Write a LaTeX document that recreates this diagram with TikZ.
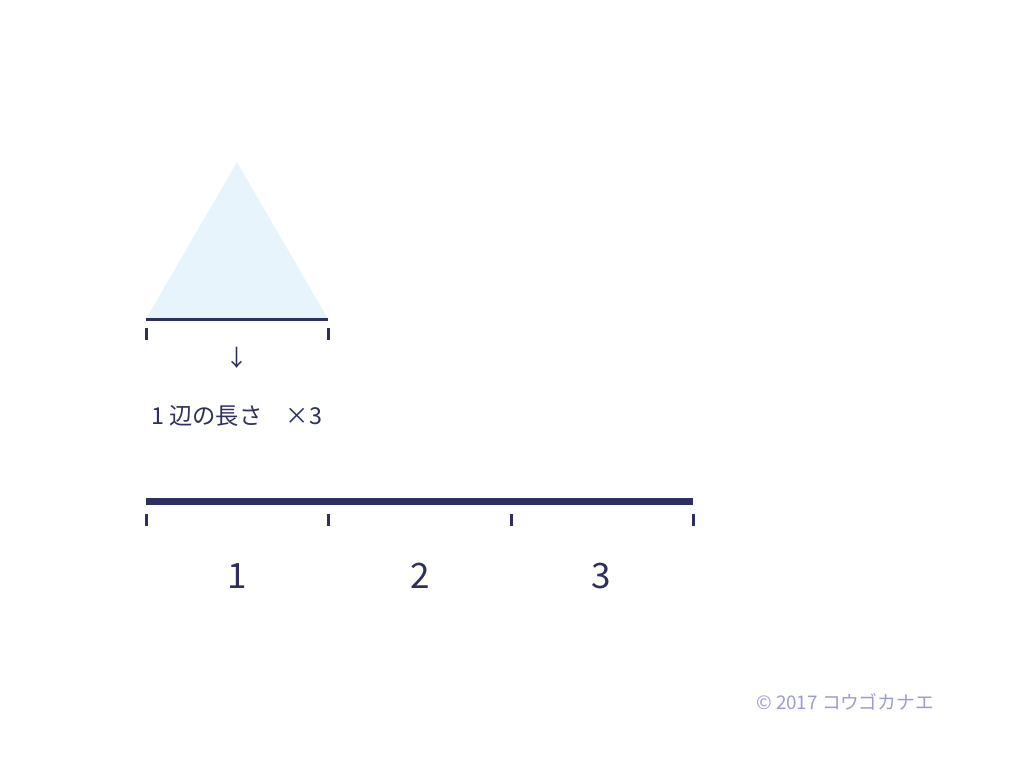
\documentclass[tikz,border=0pt]{standalone}
\usepackage{fontspec}
\setmainfont{Noto Sans CJK JP}
\definecolor{navy}{HTML}{2D2F5E}
\definecolor{trifill}{HTML}{E8F4FC}
\definecolor{copy}{HTML}{9C9CD0}
\begin{document}
\begin{tikzpicture}[x=1pt,y=-1pt,
  tick/.style={navy,line width=3pt},
  lbl/.style={text=navy,inner sep=0pt}]
\useasboundingbox (0,0) rectangle (1024,780);
% triangle
\fill[trifill] (146,319) -- (237,162) -- (328,319) -- cycle;
\coordinate (b1) at (146,319);
\coordinate (b2) at (328,319);
\draw[navy,line width=3pt] (b1) -- (b2);
\draw[tick] (146,328) -- (146,340);
\draw[tick] (328,328) -- (328,340);
\node[lbl,font=\fontsize{23}{25}\selectfont] (arr) at (237,358) {↓};
\node[lbl,anchor=west,font=\fontsize{23.3}{25}\selectfont] (txt) at (151,416) {1 辺の長さ　×3};
% bottom bar
\coordinate (c0) at (146,501);
\coordinate (c3) at (693,501);
\draw[navy,line width=7pt] (c0) -- (c3);
\foreach \x in {146,328,511,693} \draw[tick] (\x,514) -- (\x,526);
\node[lbl,font=\fontsize{35}{37}\selectfont] (n1) at (237,576) {1};
\node[lbl,font=\fontsize{35}{37}\selectfont] (n2) at (420,576) {2};
\node[lbl,font=\fontsize{35}{37}\selectfont] (n3) at (601,576) {3};
\node[inner sep=0pt,text=copy,anchor=west,font=\fontsize{18.8}{21}\selectfont] (cr) at (756,702) {© 2017 コウゴカナエ};
\end{tikzpicture}
\end{document}
